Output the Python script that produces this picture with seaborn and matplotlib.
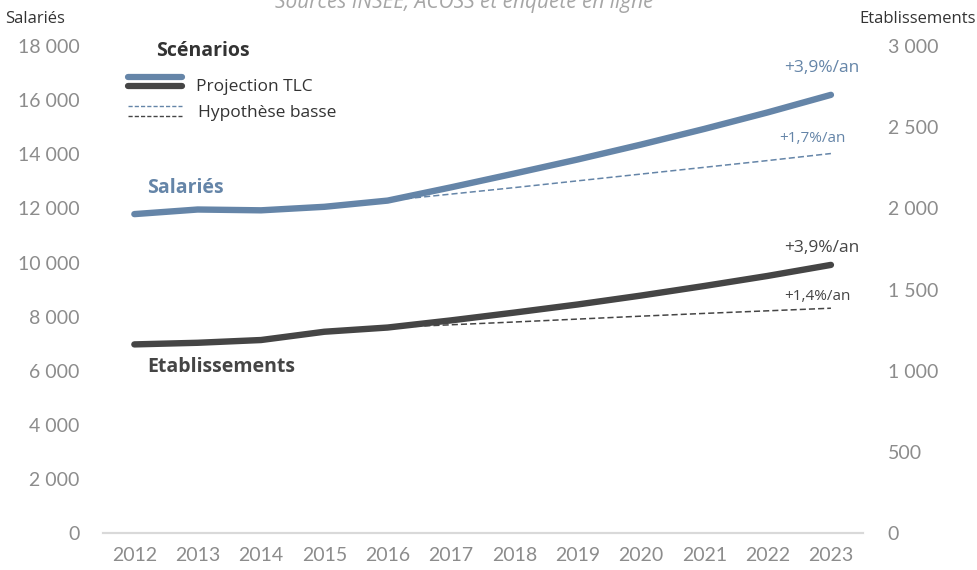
import matplotlib
matplotlib.use("Agg")
import matplotlib.pyplot as plt
from matplotlib.lines import Line2D
import seaborn as sns
import pandas as pd

# Historical series (2012-2016) and scenarios (2016-2023)
years_hist = [2012, 2013, 2014, 2015, 2016]
salaries_hist = [11790, 11960, 11930, 12060, 12290]
etab_hist = [1162, 1172, 1189, 1240, 1266]

years_proj = [2016, 2017, 2018, 2019, 2020, 2021, 2022, 2023]
salaries_tlc = [12290, 12780, 13290, 13810, 14360, 14940, 15550, 16200]
salaries_basse = [12290, 12530, 12770, 13020, 13270, 13520, 13770, 14030]
etab_tlc = [1266, 1310, 1358, 1408, 1463, 1522, 1584, 1652]
etab_basse = [1266, 1283, 1300, 1318, 1336, 1353, 1369, 1385]

years = list(range(2012, 2024))
left_ticks = list(range(0, 18001, 2000))
right_ticks = list(range(0, 3001, 500))

BLUE = "#6585a8"
DARK = "#454545"
GREY = "#8c8c8c"

sns.set_theme(style="white")
plt.rcParams["font.family"] = ["Open Sans", "DejaVu Sans"]

fig = plt.figure(figsize=(9.78, 5.70), dpi=100)
ax = fig.add_axes([0.105, 0.065, 0.777, 0.854])
ax2 = ax.twinx()

def fmt(v):
    return f"{v:,}".replace(",", " ")

# Salariés on the left axis
sal = pd.DataFrame({"annee": years_hist + years_proj[1:],
                    "val": salaries_hist + salaries_tlc[1:]})
sns.lineplot(data=sal, x="annee", y="val", ax=ax, color=BLUE, lw=4.6,
             solid_capstyle="round", solid_joinstyle="round", zorder=3)
sns.lineplot(x=years_proj, y=salaries_basse, ax=ax, color=BLUE, lw=1.1,
             dashes=(4, 2), zorder=2)

# Etablissements on the right axis
eta = pd.DataFrame({"annee": years_hist + years_proj[1:],
                    "val": etab_hist + etab_tlc[1:]})
sns.lineplot(data=eta, x="annee", y="val", ax=ax2, color=DARK, lw=4.6,
             solid_capstyle="round", solid_joinstyle="round", zorder=3)
sns.lineplot(x=years_proj, y=etab_basse, ax=ax2, color=DARK, lw=1.1,
             dashes=(4, 2), zorder=2)

tick_font = ["Lato", "DejaVu Sans"]
tick_kw = dict(family=tick_font, fontsize=14, color=GREY)

ax.set_xlim(2011.5, 2023.5)
ax.set_ylim(0, 18000)
ax2.set_ylim(0, 3000)
ax.set_xticks(years)
ax.set_xticklabels([str(y) for y in years], **tick_kw)
ax.set_yticks(left_ticks)
ax.set_yticklabels([fmt(v) for v in left_ticks], **tick_kw)
ax2.set_yticks(right_ticks)
ax2.set_yticklabels([fmt(v) for v in right_ticks], **tick_kw)
ax.tick_params(axis="y", length=0, pad=16.5)
ax.tick_params(axis="x", length=0, pad=10)
ax2.tick_params(axis="y", length=0, pad=18)
ax.set_xlabel("")
ax.set_ylabel("")
ax2.set_ylabel("")

for a in (ax, ax2):
    for s in ("top", "left", "right"):
        a.spines[s].set_visible(False)
    a.spines["bottom"].set_color("#d9d9d9")
    a.spines["bottom"].set_linewidth(1.5)
    a.grid(False)

# Axis titles
fig.text(0.005, 0.966, "Salariés", fontsize=12, color="#333333", ha="left", va="center")
fig.text(0.998, 0.966, "Etablissements", fontsize=12, color="#333333", ha="right", va="center")

# Source line, partly cut by the top edge
fig.text(0.475, 0.995, "Sources INSEE, ACOSS et enquête en ligne", fontsize=15,
         style="italic", color="#a6a6a6", ha="center", va="center")

# Series labels
ax.text(2012.2, salaries_hist[0] + 950, "Salariés", fontsize=14, fontweight="bold",
        color=BLUE, ha="left", va="center")
ax2.text(2012.2, etab_hist[0] - 140, "Etablissements", fontsize=14, fontweight="bold",
         color=DARK, ha="left", va="center")

# Growth-rate annotations
ax.text(2022.85, salaries_tlc[-1] + 1000, "+3,9%/an", fontsize=12.5, color=BLUE, ha="center", va="center")
ax.text(2022.7, salaries_basse[-1] + 550, "+1,7%/an", fontsize=11, color=BLUE, ha="center", va="center")
ax2.text(2022.85, etab_tlc[-1] + 103, "+3,9%/an", fontsize=12.5, color=DARK, ha="center", va="center")
ax2.text(2022.78, etab_basse[-1] + 73, "+1,4%/an", fontsize=11, color=DARK, ha="center", va="center")

# Scenario legend
ax.text(0.07, 0.99, "Scénarios", transform=ax.transAxes, fontsize=14, fontweight="bold",
        color="#333333", ha="left", va="center")
leg_items = [
    (0.936, BLUE, 4.5, "-"),
    (0.918, DARK, 4.5, "-"),
    (0.877, BLUE, 1.0, "--"),
    (0.856, DARK, 1.0, "--"),
]
for yy, c, w, ls in leg_items:
    ln = Line2D([0.033, 0.104], [yy, yy], transform=ax.transAxes, color=c, lw=w,
                ls=ls, dashes=(3, 1.5) if ls == "--" else (None, None))
    ax.add_line(ln)
ax.text(0.123, 0.917, "Projection TLC", transform=ax.transAxes, fontsize=12.5,
        color="#333333", ha="left", va="center")
ax.text(0.125, 0.862, "Hypothèse basse", transform=ax.transAxes, fontsize=12.5,
        color="#333333", ha="left", va="center")

fig.savefig("out.png", dpi=100)
